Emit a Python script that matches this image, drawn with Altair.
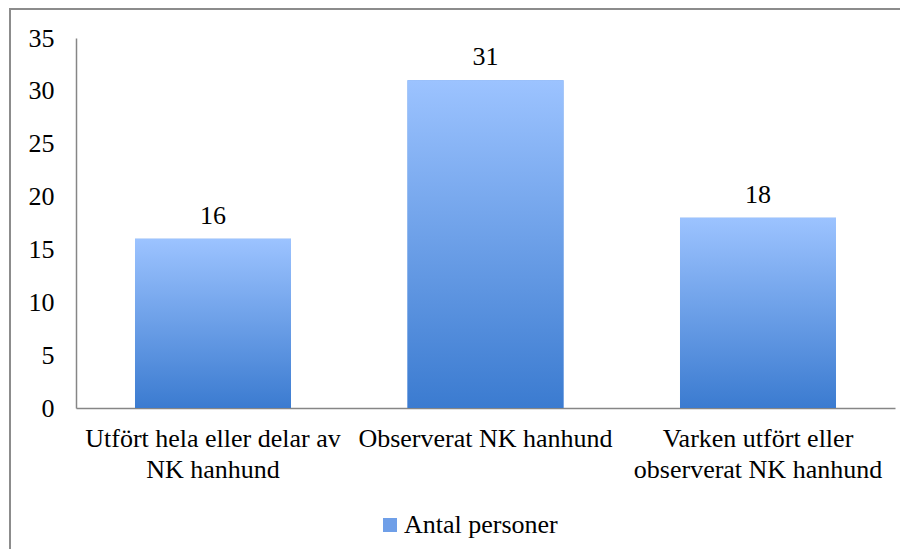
import altair as alt
import pandas as pd

categories = [
    "Utfört hela eller delar av\nNK hanhund",
    "Observerat NK hanhund",
    "Varken utfört eller\nobserverat NK hanhund",
]
values = [16, 31, 18]
series_name = "Antal personer"
y_ticks = [0, 5, 10, 15, 20, 25, 30, 35]

df = pd.DataFrame({"cat": categories, "val": values, "series": [series_name] * 3})

FONT = "'Liberation Serif', 'Times New Roman', serif"
FS = 26

x_enc = alt.X(
    "cat:N",
    sort=categories,
    scale=alt.Scale(paddingInner=0.4275, paddingOuter=0.2165),
    axis=alt.Axis(
        title=None,
        labelAngle=0,
        labelExpr="split(datum.label, '\\n')",
        labelLineHeight=31,
        labelLimit=0,
        labelFont=FONT,
        labelFontSize=FS,
        labelColor="black",
        labelPadding=17,
        ticks=False,
        domainColor="#868686",
        domainWidth=1.5,
    ),
)
y_enc = alt.Y(
    "val:Q",
    scale=alt.Scale(domain=[0, 35], nice=False),
    axis=alt.Axis(
        title=None,
        values=y_ticks,
        grid=False,
        ticks=False,
        labelPadding=22,
        labelFont=FONT,
        labelFontSize=FS,
        labelColor="black",
        domainColor="#868686",
        domainWidth=1.5,
    ),
)

base = alt.Chart(df)

legend_bars = base.mark_bar().encode(
    x=x_enc,
    y=y_enc,
    color=alt.Color(
        "series:N",
        scale=alt.Scale(range=["#6f9fe8"]),
        legend=alt.Legend(
            title=None,
            orient="none",
            legendX=301,
            legendY=474,
            symbolType="square",
            symbolSize=196,
            symbolStrokeWidth=0,
            labelFont=FONT,
            labelFontSize=FS,
            labelColor="black",
            labelOffset=1,
            labelLimit=0,
        ),
    ),
)

grad = alt.Gradient(
    gradient="linear",
    stops=[
        alt.GradientStop(color="#9cc3ff", offset=0),
        alt.GradientStop(color="#3b7bd0", offset=1),
    ],
    x1=0, x2=0, y1=0, y2=1,
)

grad_bars = base.mark_bar(color=grad).encode(x=x_enc, y=y_enc)

labels = base.mark_text(
    dy=-15, baseline="alphabetic", font=FONT, fontSize=FS, color="black"
).encode(x=x_enc, y=y_enc, text="val:Q")

dummy = alt.Chart(pd.DataFrame({"d": [0]}))
top_rule = dummy.mark_rule(color="#8c8c8c", strokeWidth=2).encode(
    x=alt.value(-67), x2=alt.value(824), y=alt.value(-29)
)
left_rule = dummy.mark_rule(color="#8c8c8c", strokeWidth=2).encode(
    x=alt.value(-66), y=alt.value(-29), y2=alt.value(511)
)

chart = (
    alt.layer(legend_bars, grad_bars, labels, top_rule, left_rule)
    .properties(width=819, height=370, padding=0, background="white")
    .configure_view(stroke=None)
)

chart.save("out.html", embed_options={"renderer": "svg", "actions": False})
